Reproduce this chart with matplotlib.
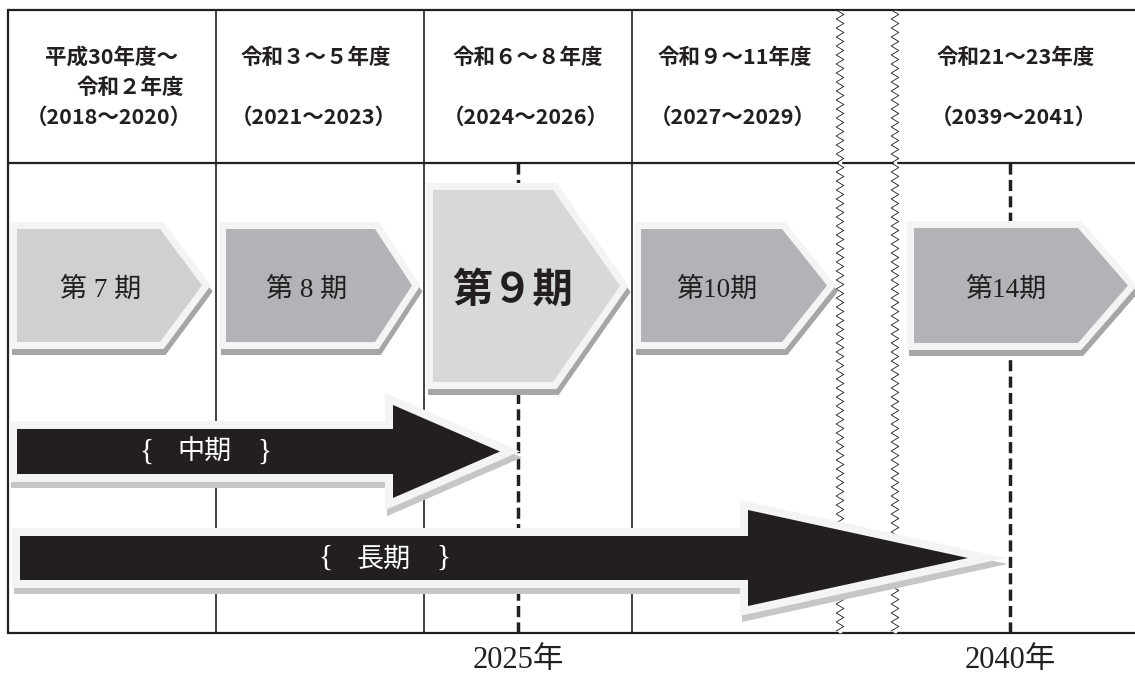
import matplotlib
matplotlib.use('Agg')
import matplotlib.pyplot as plt
import numpy as np
from matplotlib.patches import Polygon

# --- content -------------------------------------------------------------
FY_JP = ['平成30年度～', '令和３～５年度', '令和６～８年度', '令和９～11年度', '令和21～23年度']
FY_JP_2 = ['令和２年度', '', '', '', '']
FY_WEST = ['（2018～2020）', '（2021～2023）', '（2024～2026）', '（2027～2029）', '（2039～2041）']
PERIODS = ['第 7 期', '第 8 期', '第９期', '第10期', '第14期']
PERIOD_BOLD = [False, False, True, False, False]
TERMS = ['中期', '長期']
MILESTONES = ['2025年', '2040年']

# --- layout (pixel coordinates, y downwards) ----------------------------
W, H = 1135, 673
FRAME_LEFT, FRAME_TOP, HEADER_BOTTOM, FRAME_BOTTOM = 8, 10, 163, 633
COL_LINES = [216, 424, 632]
ZIGZAG_X = [840, 895]
MILESTONE_X = [518, 1010]

HEADER_X = [111, 316, 528, 735, 1016]
HEADER_X2 = [130]
HEADER_Y = [57, 87, 117]

# inner chevrons: left, point start, tip, top, bottom
CHEVRONS = [
    (17, 160, 202, 229, 342),
    (226, 375, 412, 229, 342),
    (433, 553, 620, 190, 382),
    (641, 782, 827, 229, 342),
    (914, 1078, 1128, 228, 343),
]
CHEVRON_FILL = ['#cfd0d2', '#b2b3b6', '#d7d8da', '#b2b3b6', '#b2b3b6']
PERIOD_TEXT_X = [101, 307, 513, 717, 1006]

# block arrows: left, head base, tip, body top, body bottom, head top, head bottom
ARROWS = [
    (17, 393, 500, 429, 474, 405, 498),
    (20, 748, 968, 536, 580, 510, 606),
]
TERM_X = [205, 384]
BRACE_DX = 59

INK = '#231f20'
RIM = '#f4f4f4'

plt.rcParams['lines.scale_dashes'] = False
SANS = ['Noto Sans CJK JP', 'DejaVu Sans']
SERIF = ['Liberation Serif', 'Noto Sans CJK JP']


def offset_poly(pts, d):
    pts = np.asarray(pts, dtype=float)
    n = len(pts)
    area = 0.5 * np.sum(pts[:, 0] * np.roll(pts[:, 1], -1) - np.roll(pts[:, 0], -1) * pts[:, 1])
    sign = 1.0 if area > 0 else -1.0
    base = []
    dirs = []
    for i in range(n):
        p, q = pts[i], pts[(i + 1) % n]
        t = (q - p) / np.linalg.norm(q - p)
        nrm = sign * np.array([t[1], -t[0]])
        base.append(p + d * nrm)
        dirs.append(t)
    out = []
    for i in range(n):
        p1, t1 = base[i - 1], dirs[i - 1]
        p2, t2 = base[i], dirs[i]
        m = np.array([t1, -t2]).T
        a, _ = np.linalg.solve(m, p2 - p1)
        out.append(p1 + a * t1)
    return np.array(out)


def draw_framed(ax, pts, fill, rim_w, shadow, z):
    outer = offset_poly(pts, rim_w)
    ax.add_patch(Polygon(outer + np.array([2, 6]), closed=True, fc=shadow, ec='none', zorder=z))
    ax.add_patch(Polygon(outer, closed=True, fc=RIM, ec='none', zorder=z + 0.1))
    ax.add_patch(Polygon(pts, closed=True, fc=fill, ec='none', zorder=z + 0.2))


fig = plt.figure(figsize=(W / 100, H / 100), dpi=100)
ax = fig.add_axes([0, 0, 1, 1])
ax.set_xlim(0, W)
ax.set_ylim(H, 0)
ax.axis('off')

# frame
for y in (FRAME_TOP, HEADER_BOTTOM, FRAME_BOTTOM):
    ax.plot([FRAME_LEFT, W], [y, y], color=INK, lw=1.6, solid_capstyle='butt', zorder=1)
ax.plot([FRAME_LEFT, FRAME_LEFT], [FRAME_TOP, FRAME_BOTTOM], color=INK, lw=1.6, zorder=1)
for x in COL_LINES:
    ax.plot([x, x], [FRAME_TOP, FRAME_BOTTOM], color=INK, lw=1.2, zorder=1)

# broken-axis zigzags
zy = np.arange(FRAME_TOP, FRAME_BOTTOM + 1, 4.5)
for x in ZIGZAG_X:
    zx = x + np.where(np.arange(len(zy)) % 2 == 0, -3.8, 3.8)
    ax.plot([x, x], [FRAME_TOP + 2, FRAME_BOTTOM - 2], color='white', lw=2.5, zorder=1.5)
    ax.plot(zx, zy, color=INK, lw=0.6, zorder=2)

# milestone dashed lines
for x in MILESTONE_X:
    ax.plot([x, x], [HEADER_BOTTOM, FRAME_BOTTOM], color=INK, lw=2.5,
            dashes=(8, 3.8), zorder=2)

# header texts
for i, x in enumerate(HEADER_X):
    ax.text(x, HEADER_Y[0], FY_JP[i], ha='center', va='center', fontsize=15.5,
            fontweight='bold', family=SANS, color=INK)
    if FY_JP_2[i]:
        ax.text(HEADER_X2[i], HEADER_Y[1], FY_JP_2[i], ha='center', va='center',
                fontsize=15.5, fontweight='bold', family=SANS, color=INK)
    ax.text(x - 2, HEADER_Y[2], FY_WEST[i], ha='center', va='center', fontsize=15.5,
            fontweight='bold', family=SANS, color=INK)

# period chevrons
for i, (x0, xs, xt, y0, y1) in enumerate(CHEVRONS):
    ym = (y0 + y1) / 2
    pts = [(x0, y0), (xs, y0), (xt, ym), (xs, y1), (x0, y1)]
    draw_framed(ax, pts, CHEVRON_FILL[i], 7, '#a6a6a6', 3)
    if PERIOD_BOLD[i]:
        ax.text(PERIOD_TEXT_X[i], 290, PERIODS[i], ha='center', va='center', fontsize=29,
                fontweight='bold', family=SANS, color=INK, zorder=6)
    else:
        ax.text(PERIOD_TEXT_X[i], 290, PERIODS[i], ha='center', va='center', fontsize=19.5,
                family=SERIF, color=INK, zorder=6)

# term arrows
for i, (x0, xh, xt, y0, y1, hy0, hy1) in enumerate(ARROWS):
    ym = (y0 + y1) / 2
    pts = [(x0, y0), (xh, y0), (xh, hy0), (xt, ym), (xh, hy1), (xh, y1), (x0, y1)]
    draw_framed(ax, pts, INK, 8, '#c6c6c6', 4)
    ax.text(TERM_X[i], ym + 1, TERMS[i], ha='center', va='center', fontsize=19.5,
            family=SANS, color='white', zorder=6)
    ax.text(TERM_X[i] - BRACE_DX, ym, '{', ha='center', va='center', fontsize=21,
            family=SERIF, color='white', zorder=6)
    ax.text(TERM_X[i] + BRACE_DX, ym, '}', ha='center', va='center', fontsize=21,
            family=SERIF, color='white', zorder=6)

# milestone labels
for x, lab in zip(MILESTONE_X, MILESTONES):
    ax.text(x, 660, lab, ha='center', va='center', fontsize=22, family=SERIF, color=INK)

fig.savefig('out.png', dpi=100)
plt.close(fig)
